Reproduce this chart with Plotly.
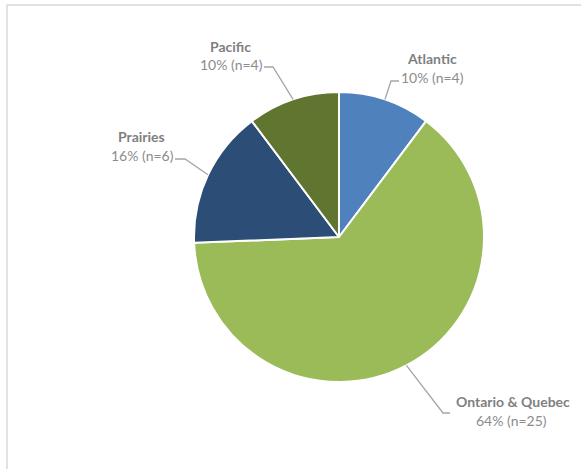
import math
import plotly.graph_objects as go

# ---- data ----
regions = ["Atlantic", "Ontario & Quebec", "Prairies", "Pacific"]
counts = [4, 25, 6, 4]
pct_labels = ["10%", "64%", "16%", "10%"]
colors = ["#4F81BD", "#9BBB59", "#2C4D75", "#5F7530"]

W, H = 581, 469
CX, CY, R = 339, 237, 145  # pie centre / radius in pixels

# label centres (name line, value line) and leader elbow / end points, pixels
label_pos = {
    "Atlantic": ((432.5, 58), (432.5, 77)),
    "Ontario & Quebec": ((513, 401), (511.5, 420)),
    "Prairies": ((141, 137), (142, 156)),
    "Pacific": ((230.5, 46), (231, 64)),
}
elbows = {
    "Atlantic": ((391, 81), (399, 81)),
    "Ontario & Quebec": ((443, 413), (450, 413)),
    "Prairies": ((185, 159), (175, 159)),
    "Pacific": ((273, 67), (264, 67)),
}


def px(x):
    return x / W


def py(y):
    return 1 - y / H


fig = go.Figure()
fig.add_trace(go.Pie(
    labels=regions,
    values=counts,
    sort=False,
    direction="clockwise",
    rotation=0,
    marker=dict(colors=colors, line=dict(color="white", width=2)),
    textinfo="none",
    hoverinfo="label+value",
    domain=dict(x=[px(CX - R), px(CX + R)], y=[py(CY + R), py(CY - R)]),
    showlegend=False,
))

annotations = []
shapes = []
total = sum(counts)
cum = 0
for name, n, pct in zip(regions, counts, pct_labels):
    mid = (cum + n / 2) / total * 2 * math.pi
    cum += n
    ex = CX + R * math.sin(mid)
    ey = CY - R * math.cos(mid)
    (nx, ny), (vx, vy) = label_pos[name]
    annotations.append(dict(x=px(nx), y=py(ny), xref="paper", yref="paper",
                            text=f"<b>{name}</b>", showarrow=False,
                            xanchor="center", yanchor="middle",
                            font=dict(family="Lato", size=14, color="#7F7F7F")))
    annotations.append(dict(x=px(vx), y=py(vy), xref="paper", yref="paper",
                            text=f"{pct} (n={n})", showarrow=False,
                            xanchor="center", yanchor="middle",
                            font=dict(family="Lato", size=14, color="#8C8C8C")))
    (bx, by), (tx, ty) = elbows[name]
    path = f"M {px(ex)},{py(ey)} L {px(bx)},{py(by)} L {px(tx)},{py(ty)}"
    shapes.append(dict(type="path", path=path, xref="paper", yref="paper",
                       line=dict(color="#A6A6A6", width=1.3)))

# chart frame (top and left edges visible)
shapes.append(dict(type="rect", xref="paper", yref="paper",
                   x0=px(7), x1=px(W + 10), y0=py(H + 10), y1=py(5),
                   line=dict(color="#D9D9D9", width=1.5)))

fig.update_layout(
    width=W, height=H,
    margin=dict(l=0, r=0, t=0, b=0),
    paper_bgcolor="white",
    plot_bgcolor="white",
    annotations=annotations,
    shapes=shapes,
)

fig.write_html("out.html",
               config={"displayModeBar": False},
               post_script="document.body.style.margin='0';document.body.style.overflow='hidden';")
